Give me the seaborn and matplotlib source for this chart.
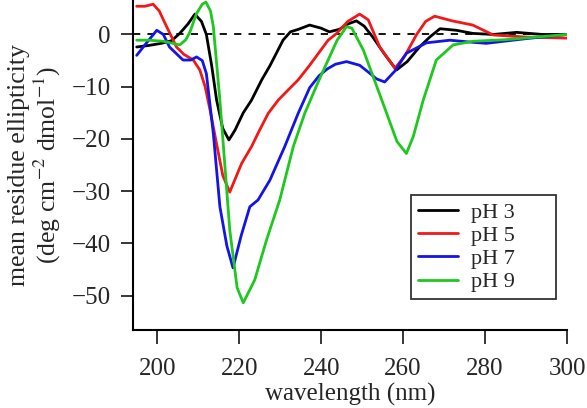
import matplotlib
matplotlib.use("Agg")
import matplotlib.pyplot as plt
import seaborn as sns
import pandas as pd

sns.set_style("ticks")
plt.rcParams['font.family'] = ['Liberation Serif', 'DejaVu Serif']
plt.rcParams['mathtext.fontset'] = 'stix'
plt.rcParams['font.size'] = 18

# ====================== DATA ======================
wl_ph3 = [195, 198, 201, 203.5, 205.5, 207.5, 209.2, 210.8, 212, 213.3, 214.5, 216, 217.5,
          219, 221, 223, 225.5, 227.5, 229.2, 230.7, 232.5, 234.5, 237.2, 240, 242, 244.5, 246.5,
          248.6, 250.5, 252.6, 255.5, 258.4, 261, 264, 266.5, 269, 273, 277, 282, 287.7, 294, 300]
mre_ph3 = [-2.4, -2.1, -1.7, -1.2, 0.2, 2.0, 3.9, 2.5, 0.0, -6.0, -12.6, -18.0, -20.2,
           -18.3, -15.0, -12.6, -8.7, -6.0, -3.4, -1.1, 0.5, 1.0, 1.8, 1.2, 0.5, 1.0, 2.0,
           2.6, 1.6, -0.5, -3.8, -6.8, -5.2, -2.4, -0.5, 1.1, 0.8, 0.2, 0.0, 0.4, 0.0, 0.0]

wl_ph5 = [195, 197, 199, 200.5, 202.3, 204.7, 206.5, 208.8, 210.4, 211.7, 212.9, 214.5, 216,
          217.7, 220.6, 223, 225, 227.1, 229.5, 232, 234.4, 237.2, 241.7, 243.8, 246.5, 249.4,
          251.5, 254.3, 258, 260.5, 263.3, 265.5, 267.7, 272, 277, 282, 290, 300]
mre_ph5 = [5.4, 5.4, 5.8, 4.5, 1.5, -2.4, -3.8, -4.9, -6.8, -10.0, -14.5, -21.0, -27.0,
           -30.2, -24.7, -21.5, -18.3, -15.1, -12.6, -10.6, -8.7, -5.9, -1.1, 0.2, 2.5, 3.9,
           2.8, -2.4, -6.5, -4.0, 0.0, 2.5, 3.5, 2.6, 1.8, -0.1, -0.5, -0.7]

wl_ph7 = [195, 197, 199.9, 201.5, 203, 206.3, 208.2, 209.6, 211, 212, 213.7, 215.3, 217,
          218.5, 220.5, 222.6, 224.6, 227.5, 231.1, 234.4, 237.2, 239.5, 241.5, 243.5, 246.2,
          249.4, 251.5, 253.5, 255.5, 258, 260.8, 265.7, 271.4, 277, 280.3, 290, 300]
mre_ph7 = [-4.0, -2.0, 0.8, 0.0, -2.4, -4.9, -4.9, -4.3, -5.0, -7.5, -19.0, -33.0, -40.5,
           -44.7, -38.5, -33.0, -31.7, -27.9, -21.5, -15.1, -10.2, -7.9, -6.6, -5.7, -5.2,
           -5.9, -7.2, -8.5, -9.1, -7.0, -3.6, -1.6, -1.1, -1.5, -1.7, -0.8, 0.0]

wl_ph9 = [195, 198, 201.5, 205.5, 207, 208, 209.6, 211, 211.9, 213, 213.7, 215.3, 217.7,
          219.5, 221, 223.8, 226.7, 229.9, 233.2, 236, 239.5, 243.9, 246.2, 247.5, 250.3,
          255.1, 258.5, 260.8, 262.5, 264.9, 268.1, 272.2, 277.1, 285, 300]
mre_ph9 = [-1.1, -1.1, -1.3, -2.0, -1.0, 0.5, 4.0, 5.8, 6.2, 4.5, 1.5, -12.6, -37.4,
           -48.5, -51.4, -47.0, -39.3, -31.7, -21.5, -15.1, -8.7, -1.1, 1.5, 1.2, -3.0,
           -13.2, -20.5, -22.8, -19.5, -12.6, -4.9, -2.0, -1.3, -1.0, 0.0]

labels = ['pH 3', 'pH 5', 'pH 7', 'pH 9']
colors = ['#000000', '#f01818', '#1414e6', '#1ec81e']

frames = []
for lab, wl, mre in zip(labels, [wl_ph3, wl_ph5, wl_ph7, wl_ph9],
                        [mre_ph3, mre_ph5, mre_ph7, mre_ph9]):
    frames.append(pd.DataFrame({'wavelength': wl, 'mre': mre, 'pH': lab}))
df = pd.concat(frames, ignore_index=True)

# ====================== PLOT ======================
fig = plt.figure(figsize=(5.87, 4.08), dpi=100)
ax = fig.add_axes([0.2266, 0.1912, 0.7394, 0.8088])

ax.axhline(0, color='black', ls=(0, (4, 4)), lw=1.3, zorder=1)
sns.lineplot(data=df, x='wavelength', y='mre', hue='pH', palette=colors,
             sort=False, estimator=None, lw=2.0, ax=ax)

ax.set_xlim(194.1, 300)
ax.set_ylim(-56.6, 6.6)
ax.set_xticks([200, 220, 240, 260, 280, 300])
ax.set_yticks([0, -10, -20, -30, -40, -50])
ax.set_xlabel('wavelength (nm)', labelpad=2, fontsize=18)
ax.set_ylabel('mean residue ellipticity\n(deg cm$^{-2}$ dmol$^{-1}$)', labelpad=6,
              fontsize=18.5, linespacing=1.1)
ax.tick_params(axis='x', direction='out', length=10, width=1.3, labelsize=18, pad=10)
ax.tick_params(axis='y', direction='out', length=9, width=1.3, labelsize=18, pad=7)
for s in ['top', 'right']:
    ax.spines[s].set_visible(False)
for s in ['left', 'bottom']:
    ax.spines[s].set_linewidth(1.5)
    ax.spines[s].set_color('black')

leg = ax.legend(loc='lower left', bbox_to_anchor=(0.6406, 0.094, 0.3344, 0.3),
                mode='expand', fontsize=16, frameon=True, fancybox=False,
                handlelength=1.8, labelspacing=0.12, borderpad=0.3,
                handletextpad=0.6, borderaxespad=0)
leg.get_frame().set_edgecolor('black')
leg.get_frame().set_linewidth(1.3)
leg.set_title(None)

fig.savefig('out.png', dpi=100)
